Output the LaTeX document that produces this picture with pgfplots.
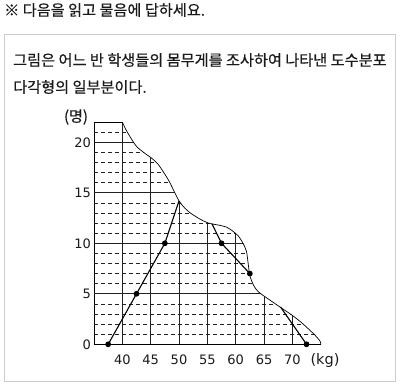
\documentclass[border=0pt]{standalone}
\usepackage{fontspec}
\usepackage{pgfplots}
\pgfplotsset{compat=1.18}
\setmainfont{Liberation Sans}
\newfontfamily\kr[FakeBold=0.5]{Noto Sans CJK KR}
\newfontfamily\num{DejaVu Sans}
\definecolor{txt}{HTML}{1A1A1A}
\definecolor{boxc}{HTML}{CCCCCC}
\definecolor{gridc}{HTML}{222222}
\begin{document}
\begin{tikzpicture}
\useasboundingbox (0pt,0pt) rectangle (400pt,384pt);
\node[anchor=west, inner sep=0, text=txt, font=\kr\fontsize{15.2}{17}\selectfont] at (4pt,374pt) {※ 다음을 읽고 물음에 답하세요.};
\draw[boxc, line width=1pt] (4.5pt,2.5pt) rectangle (395.5pt,349pt);
\node[anchor=west, inner sep=0, text=txt, font=\kr\fontsize{15.2}{17}\selectfont] at (13pt,324pt) {그림은 어느 반 학생들의 몸무게를 조사하여 나타낸 도수분포};
\node[anchor=west, inner sep=0, text=txt, font=\kr\fontsize{15.2}{17}\selectfont] at (13pt,297pt) {다각형의 일부분이다.};
\node[text=txt, inner sep=0, font=\kr\fontsize{15}{17}\selectfont] at (76pt,267pt) {(명)};
\node[text=txt, inner sep=0, font=\num\fontsize{14.5}{17}\selectfont] at (325pt,24pt) {(kg)};
\begin{axis}[at={(94pt,39.7pt)}, anchor=south west, scale only axis,
  width=226.7pt, height=222.2pt,
  xmin=35, xmax=75, ymin=0, ymax=22,
  axis x line*=bottom, axis y line*=left,
  axis line style={line width=0.9pt, -, black},
  xtick={40,45,...,70}, ytick={0,5,...,20},
  major tick length=0pt,
  /pgf/number format/assume math mode=true,
  tick label style={font=\num\fontsize{13}{15}\selectfont, text=txt},
  xticklabel style={yshift=-7pt},
  yticklabel style={xshift=0.5pt},
  clip=false]
\begin{scope}
\clip (axis cs:35,0) -- (axis cs:35,22) -- plot[smooth, tension=0.5] coordinates {(axis cs:40,22) (axis cs:40.5,21.4) (axis cs:41.2,20.7) (axis cs:42.5,19.6) (axis cs:44,18.9) (axis cs:45,18.5) (axis cs:46.2,17.9) (axis cs:47.2,17.1) (axis cs:48.2,16.2) (axis cs:49,15.3) (axis cs:50,14.2) (axis cs:51,13.5) (axis cs:52,13.0) (axis cs:53.7,12.4) (axis cs:55.2,12.0) (axis cs:57,11.8) (axis cs:58.4,11.6) (axis cs:59.5,11.2) (axis cs:60.5,10.7) (axis cs:61.3,10.0) (axis cs:61.9,9.2) (axis cs:62.2,8.0) (axis cs:62.5,6.8) (axis cs:63.2,5.8) (axis cs:64,5.2) (axis cs:65.2,4.7) (axis cs:66.5,4.2) (axis cs:67.8,3.7) (axis cs:69.9,2.9) (axis cs:71.5,2.2) (axis cs:72.5,1.7) (axis cs:74,0.9) (axis cs:74.9,0.3) (axis cs:75,0)} -- cycle;
\pgfplotsinvokeforeach{1,2,3,4,6,7,8,9,11,12,13,14,16,17,18,19,21}{\draw[gridc, line width=0.7pt, dash pattern=on 4.5pt off 2.5pt] (axis cs:35,#1) -- (axis cs:75,#1);}
\pgfplotsinvokeforeach{5,10,15,20,22}{\draw[gridc, line width=0.8pt] (axis cs:35,#1) -- (axis cs:75,#1);}
\pgfplotsinvokeforeach{40,45,50,55,60,65,70}{\draw[gridc, line width=0.8pt] (axis cs:#1,0) -- (axis cs:#1,22);}
\end{scope}
\draw[black, line width=0.7pt] plot[smooth, tension=0.5] coordinates {(axis cs:40,22) (axis cs:40.5,21.4) (axis cs:41.2,20.7) (axis cs:42.5,19.6) (axis cs:44,18.9) (axis cs:45,18.5) (axis cs:46.2,17.9) (axis cs:47.2,17.1) (axis cs:48.2,16.2) (axis cs:49,15.3) (axis cs:50,14.2) (axis cs:51,13.5) (axis cs:52,13.0) (axis cs:53.7,12.4) (axis cs:55.2,12.0) (axis cs:57,11.8) (axis cs:58.4,11.6) (axis cs:59.5,11.2) (axis cs:60.5,10.7) (axis cs:61.3,10.0) (axis cs:61.9,9.2) (axis cs:62.2,8.0) (axis cs:62.5,6.8) (axis cs:63.2,5.8) (axis cs:64,5.2) (axis cs:65.2,4.7) (axis cs:66.5,4.2) (axis cs:67.8,3.7) (axis cs:69.9,2.9) (axis cs:71.5,2.2) (axis cs:72.5,1.7) (axis cs:74,0.9) (axis cs:74.9,0.3) (axis cs:75,0)};
\draw[black, line width=0.9pt] (axis cs:35,22) -- (axis cs:40,22);
\addplot[black, line width=1.1pt, mark=*, mark size=2.3pt, mark indices={1,2,3}] coordinates {(37.5,0) (42.5,5) (47.5,10) (50,14.2)};
\addplot[black, line width=1.1pt, mark=*, mark size=2.3pt, mark indices={2,3}] coordinates {(55.8,11.95) (57.5,10) (62.5,7)};
\addplot[black, line width=1.1pt, mark=*, mark size=2.3pt, mark indices={2}] coordinates {(67.9,3.7) (72.5,0)};
\end{axis}
\end{tikzpicture}
\end{document}
